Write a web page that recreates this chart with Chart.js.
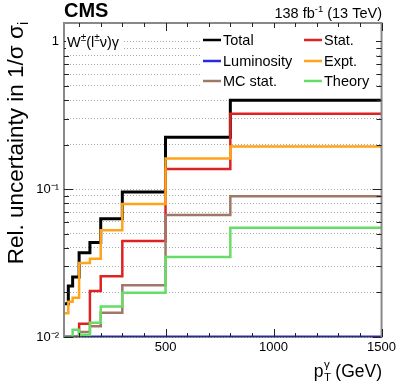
<!DOCTYPE html>
<html><head><meta charset="utf-8">
<script src="https://cdn.jsdelivr.net/npm/chart.js@4"></script>
<style>html,body{margin:0;padding:0;background:#fff;}</style>
</head><body>
<canvas id="c" width="399" height="383" style="display:block;width:399px;height:383px"></canvas>
<script>
// ---- data ----
const binEdges = [30, 50, 70, 100, 150, 200, 300, 500, 800, 1500];
const seriesLabels = ['Total', 'Luminosity', 'MC stat.', 'Stat.', 'Expt.', 'Theory'];
const totalUnc = [0.0168, 0.0221, 0.0255, 0.0371, 0.0436, 0.0630, 0.0955, 0.224, 0.400];
const lumiUnc  = [0.0100, 0.0100, 0.0100, 0.0100, 0.0100, 0.0100, 0.0100, 0.0100, 0.0100];
const mcStatUnc = [0.0100, 0.0100, 0.0100, 0.0108, 0.0118, 0.0146, 0.0224, 0.0668, 0.0897];
const statUnc  = [0.0100, 0.0100, 0.0100, 0.0123, 0.0205, 0.0258, 0.0446, 0.137, 0.324];
const exptUnc  = [0.0145, 0.0173, 0.0184, 0.0317, 0.0338, 0.0528, 0.0795, 0.161, 0.194];
const theoryUnc = [0.0100, 0.0100, 0.0112, 0.0103, 0.0125, 0.0161, 0.0199, 0.0348, 0.0548];
const xTickValues = [100,200,300,400,500,600,700,800,900,1000,1100,1200,1300,1400,1500];
const xMajorValues = [500, 1000, 1500];
const xMajorLabels = ['500', '1000', '1500'];
const yTickValues = [0.01,0.02,0.03,0.04,0.05,0.06,0.07,0.08,0.09,0.1,0.2,0.3,0.4,0.5,0.6,0.7,0.8,0.9,1];
const yMajorValues = [0.01, 0.1, 1];
const yMajorLabels = ['10⁻²', '10⁻¹', '1'];
const legendRows = [['Total', 'Stat.'], ['Luminosity', 'Expt.'], ['MC stat.', 'Theory']];

const FONT = '"Liberation Sans", Arial, Helvetica, sans-serif';
Chart.defaults.font.family = FONT;

function histPoints(vals) {
  const pts = vals.map((v, i) => ({x: binEdges[i], y: v}));
  pts.push({x: binEdges[binEdges.length - 1], y: vals[vals.length - 1]});
  return pts;
}
function ds(label, vals, color, width, order) {
  return {label, data: histPoints(vals), borderColor: color, backgroundColor: color,
    borderWidth: width, stepped: 'before', pointRadius: 0, fill: false, order, tension: 0};
}

function fontStr(size, bold) { return (bold ? 'bold ' : '') + size + 'px ' + FONT; }
function drawRich(ctx, segs, x, y, align) {
  let w = 0;
  for (const s of segs) { ctx.font = fontStr(s.size, s.bold); w += ctx.measureText(s.t).width; }
  if (align === 'right') x -= w;
  for (const s of segs) {
    ctx.font = fontStr(s.size, s.bold);
    ctx.fillText(s.t, x, y + (s.dy || 0));
    x += ctx.measureText(s.t).width;
  }
  return w;
}

const rootPlugin = {
  id: 'rootStyle',
  afterDatasetsDraw(chart) {
    const {ctx, chartArea: a, scales: {x, y}} = chart;
    ctx.save();
    // bottom axis line, blended over the luminosity line lying on it
    ctx.strokeStyle = 'rgba(40,40,60,0.5)'; ctx.lineWidth = 2;
    ctx.beginPath(); ctx.moveTo(a.left, a.bottom); ctx.lineTo(a.right, a.bottom); ctx.stroke();
    // frame
    ctx.strokeStyle = '#888'; ctx.lineWidth = 2;
    ctx.beginPath();
    ctx.moveTo(a.left, a.bottom + 1); ctx.lineTo(a.left, a.top); ctx.lineTo(a.right, a.top); ctx.lineTo(a.right, a.bottom + 1);
    ctx.stroke();
    // ticks
    ctx.strokeStyle = '#222'; ctx.lineWidth = 1;
    ctx.beginPath();
    for (const v of yTickValues) {
      const py = Math.round(y.getPixelForValue(v)) + 0.5;
      const len = yMajorValues.some(m => Math.abs(m - v) < 1e-9) ? 9 : 5;
      ctx.moveTo(a.left, py); ctx.lineTo(a.left + len, py);
      ctx.moveTo(a.right, py); ctx.lineTo(a.right - len, py);
    }
    for (const v of xTickValues) {
      const px = Math.round(x.getPixelForValue(v)) + 0.5;
      const len = xMajorValues.includes(v) ? 8 : 4;
      ctx.moveTo(px, a.bottom); ctx.lineTo(px, a.bottom - len);
      ctx.moveTo(px, a.top); ctx.lineTo(px, a.top + len);
    }
    ctx.stroke();

    // legend
    ctx.fillStyle = '#fff';
    ctx.fillRect(200, 28, 176, 66);
    const colX = [[203, 221, 223], [304, 322, 324]];
    const rowY = [40, 61, 81];
    ctx.textBaseline = 'middle';
    legendRows.forEach((row, r) => row.forEach((lab, c) => {
      const d = chart.data.datasets.find(e => e.label === lab);
      ctx.strokeStyle = d.borderColor; ctx.lineWidth = 2.5;
      ctx.beginPath(); ctx.moveTo(colX[c][0], rowY[r]); ctx.lineTo(colX[c][1], rowY[r]); ctx.stroke();
      ctx.fillStyle = '#000'; ctx.font = fontStr(14.5);
      ctx.fillText(lab, colX[c][2], rowY[r] + 0.5);
    }));

    // process label
    ctx.textBaseline = 'alphabetic';
    const wsegs = [{t: 'W', size: 14.5}, {t: '±', size: 10, dy: -6}, {t: '(l', size: 14.5},
                   {t: '±', size: 10, dy: -6}, {t: 'ν)γ', size: 14.5}];
    ctx.fillStyle = '#fff';
    ctx.fillRect(66, 33, 58, 17);
    ctx.fillStyle = '#000';
    drawRich(ctx, wsegs, 67, 47);

    // CMS and lumi
    drawRich(ctx, [{t: 'CMS', size: 20, bold: true}], 64, 17);
    drawRich(ctx, [{t: '138 fb', size: 14.5}, {t: '-1', size: 9.5, dy: -6}, {t: ' (13 TeV)', size: 14.5}], 382, 18, 'right');

    // x title
    ctx.font = fontStr(17.5);
    const wGeV = ctx.measureText(' (GeV)').width;
    const wp = ctx.measureText('p').width;
    ctx.font = fontStr(11.5);
    const wsub = Math.max(ctx.measureText('T').width, ctx.measureText('γ').width);
    let xs = 382 - wGeV - wsub - wp;
    ctx.font = fontStr(17.5); ctx.fillText('p', xs, 377);
    ctx.font = fontStr(11.5); ctx.fillText('T', xs + wp + 0.5, 381); ctx.fillText('γ', xs + wp + 0.5, 368);
    ctx.font = fontStr(17.5); ctx.fillText(' (GeV)', xs + wp + wsub, 377);

    // y title
    const ysegs = [{t: 'Rel. uncertainty in 1/σ σ', size: 22.5}, {t: 'i', size: 14, dy: 5}];
    let tw = 0;
    for (const s of ysegs) { ctx.font = fontStr(s.size); tw += ctx.measureText(s.t).width; }
    ctx.translate(23, 22 + tw);
    ctx.rotate(-Math.PI / 2);
    drawRich(ctx, ysegs, 0, 0);
    ctx.restore();
  }
};

new Chart(document.getElementById('c'), {
  type: 'line',
  data: {
    datasets: [
      ds(seriesLabels[0], totalUnc, '#000000', 3, 6),
      ds(seriesLabels[1], lumiUnc, '#2a2ae0', 3, 5),
      ds(seriesLabels[3], statUnc, '#dd2222', 2.5, 4),
      ds(seriesLabels[4], exptUnc, '#ffa31a', 2.5, 3),
      ds(seriesLabels[2], mcStatUnc, '#a07868', 2.5, 2),
      ds(seriesLabels[5], theoryUnc, '#66dd66', 2.5, 1)
    ]
  },
  options: {
    responsive: false, animation: false, events: [],
    layout: {padding: {top: 23, right: 17, left: 0, bottom: 0}},
    plugins: {legend: {display: false}, tooltip: {enabled: false}},
    scales: {
      x: {
        type: 'linear', min: 30, max: 1500,
        afterBuildTicks: s => { s.ticks = xTickValues.map(v => ({value: v})); },
        afterFit: s => { s.height = 46; },
        grid: {display: false, drawTicks: false},
        border: {display: false},
        ticks: {autoSkip: false, maxRotation: 0, padding: 3, color: '#000', font: {size: 13},
          callback: v => { const i = xMajorValues.indexOf(v); return i >= 0 ? xMajorLabels[i] : ''; }}
      },
      y: {
        type: 'logarithmic', min: 0.01, max: 1.33,
        afterBuildTicks: s => { s.ticks = yTickValues.map(v => ({value: v})); },
        afterFit: s => { s.width = 64; },
        grid: {display: true, drawTicks: false, color: '#aaaaaa', lineWidth: 1},
        border: {display: false, dash: [1, 2]},
        ticks: {autoSkip: false, padding: 5, color: '#000', font: {size: 13},
          callback: v => { const i = yMajorValues.findIndex(m => Math.abs(m - v) < 1e-9); return i >= 0 ? yMajorLabels[i] : ''; }}
      }
    }
  },
  plugins: [rootPlugin]
});
</script>
</body></html>
